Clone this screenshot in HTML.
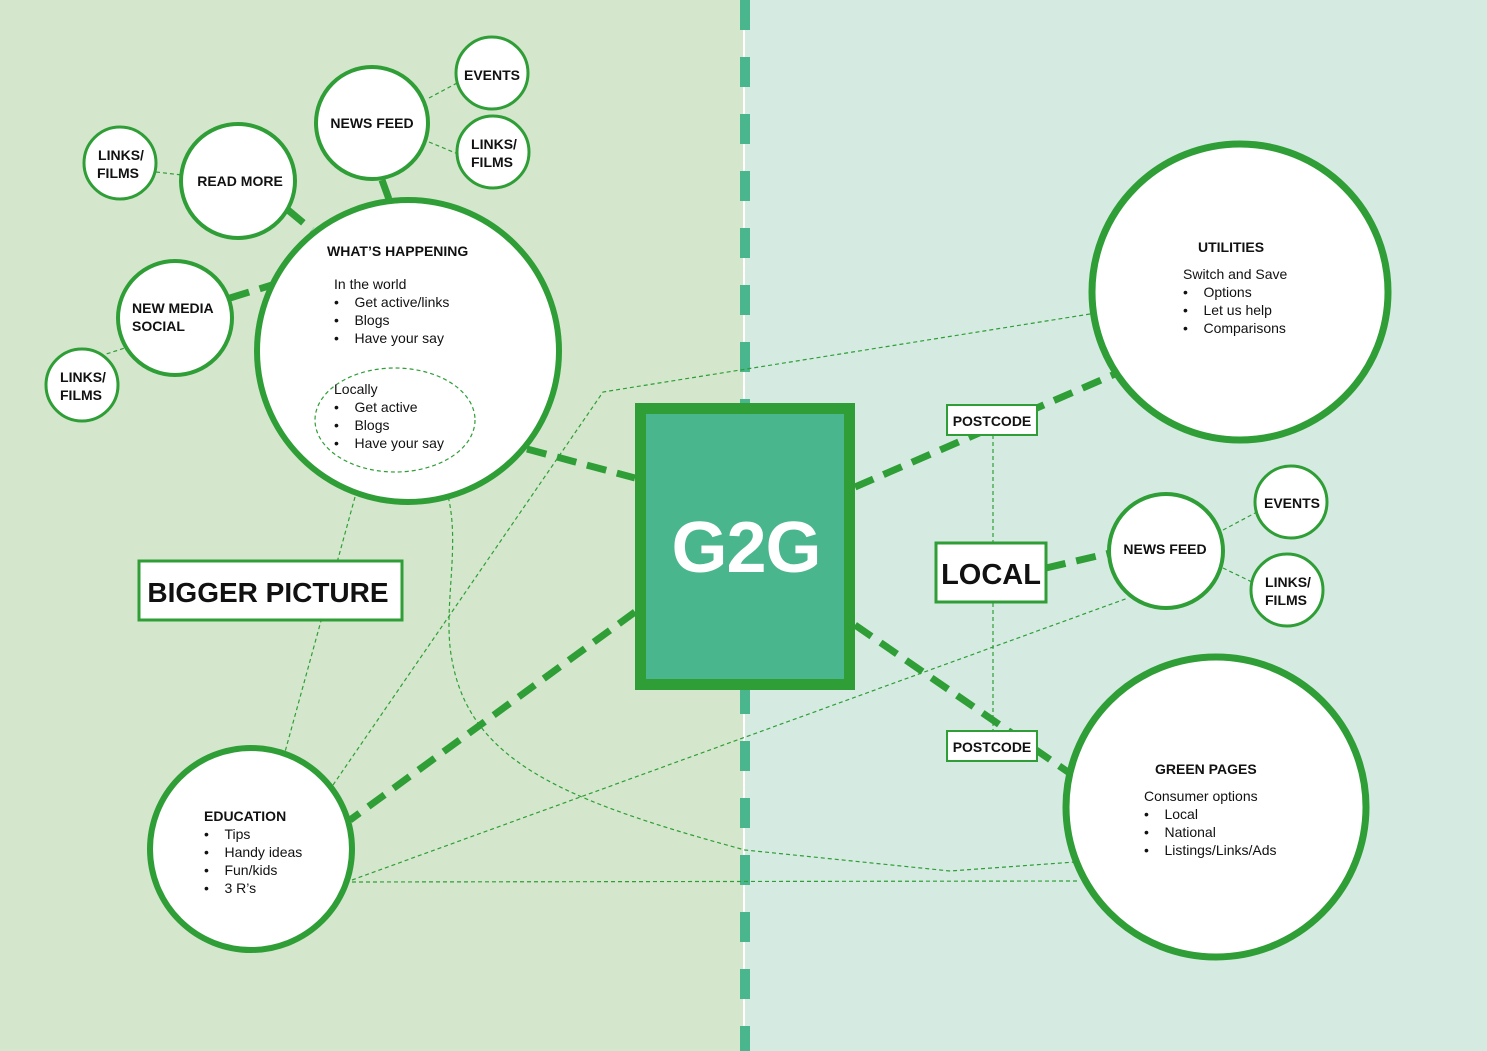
<!DOCTYPE html>
<html><head><meta charset="utf-8"><style>
html,body{margin:0;padding:0;}
svg{display:block}
text{font-family:"Liberation Sans",sans-serif;fill:#111}
.b{font-weight:bold;font-size:14px}
.n{font-size:14px}
</style></head><body>
<svg width="1487" height="1051" viewBox="0 0 1487 1051" xmlns="http://www.w3.org/2000/svg">
<rect x="0" y="0" width="745" height="1051" fill="#d4e7cd"/>
<rect x="745" y="0" width="742" height="1051" fill="#d5ebe2"/>
<line x1="744" y1="0" x2="744" y2="1051" stroke="#fff" stroke-width="2"/>
<line x1="745" y1="0" x2="745" y2="1051" stroke="#4ab68e" stroke-width="10" stroke-dasharray="30 27"/>

<g fill="none" stroke="#2f9e36" stroke-width="1.2" stroke-dasharray="4 3">
<polyline points="1090,314 603,392 333,785"/>
<path d="M435,465 C470,520 440,600 452,660 C470,760 560,800 745,850 L950,871 L1075,862"/>
<line x1="352" y1="882" x2="1080" y2="881"/>
<line x1="352" y1="880" x2="1128" y2="598"/>
<line x1="355" y1="497" x2="285" y2="752"/>
<line x1="993" y1="435" x2="993" y2="731"/>
<line x1="429" y1="98" x2="459" y2="82"/>
<line x1="429" y1="142" x2="458" y2="154"/>
<line x1="156" y1="172" x2="182" y2="175"/>
<line x1="100" y1="356" x2="128" y2="347"/>
<line x1="1223" y1="530" x2="1257" y2="512"/>
<line x1="1223" y1="568" x2="1252" y2="582"/>
</g>

<g stroke="#2f9e36" stroke-width="7" stroke-dasharray="20 11" fill="none">
<line x1="527" y1="449" x2="635" y2="478"/>
<line x1="635" y1="612" x2="350" y2="820"/>
<line x1="855" y1="487" x2="1115" y2="374"/>
<line x1="855" y1="625" x2="1068" y2="772"/>
<line x1="1046" y1="568" x2="1110" y2="553"/>
<line x1="382" y1="180" x2="390" y2="202"/>
<line x1="288" y1="210" x2="312" y2="230"/>
<line x1="230" y1="298" x2="272" y2="285"/>
</g>

<g fill="#fff" stroke="#2f9e36">
<circle cx="408" cy="351" r="151" stroke-width="6"/>
<circle cx="372" cy="123" r="56" stroke-width="4"/>
<circle cx="492" cy="73" r="36" stroke-width="3"/>
<circle cx="493" cy="152" r="36" stroke-width="3"/>
<circle cx="238" cy="181" r="57" stroke-width="4"/>
<circle cx="120" cy="163" r="36" stroke-width="3"/>
<circle cx="175" cy="318" r="57" stroke-width="4"/>
<circle cx="82" cy="385" r="36" stroke-width="3"/>
<circle cx="251" cy="849" r="101" stroke-width="6"/>
<circle cx="1240" cy="292" r="148" stroke-width="7"/>
<circle cx="1166" cy="551" r="57" stroke-width="4"/>
<circle cx="1291" cy="502" r="36" stroke-width="3"/>
<circle cx="1287" cy="590" r="36" stroke-width="3"/>
<circle cx="1216" cy="807" r="150" stroke-width="7"/>
</g>
<ellipse cx="395" cy="420" rx="80" ry="52" fill="none" stroke="#2f9e36" stroke-width="1.2" stroke-dasharray="4 3"/>

<rect x="640.5" y="408.5" width="209" height="276" fill="#4ab68e" stroke="#2f9e36" stroke-width="11"/>
<text x="746" y="572" text-anchor="middle" style="font-size:72px;font-weight:900;fill:#fff;letter-spacing:-1px">G2G</text>

<g fill="#fff" stroke="#2f9e36" stroke-width="2">
<rect x="947" y="405" width="90" height="30"/>
<rect x="947" y="731" width="90" height="30"/>
<rect x="936" y="543" width="110" height="59" stroke-width="3"/>
<rect x="139" y="561" width="263" height="59" stroke-width="3"/>
</g>
<text x="992" y="426" text-anchor="middle" class="b">POSTCODE</text>
<text x="992" y="752" text-anchor="middle" class="b">POSTCODE</text>
<text x="991" y="584" text-anchor="middle" style="font-size:29px;font-weight:bold">LOCAL</text>
<text x="268" y="602" text-anchor="middle" style="font-size:28px;font-weight:bold">BIGGER PICTURE</text>

<text x="372" y="128" text-anchor="middle" class="b">NEWS FEED</text>
<text x="492" y="80" text-anchor="middle" class="b">EVENTS</text>
<text x="494" y="149" text-anchor="middle" class="b">LINKS/</text>
<text x="492" y="167" text-anchor="middle" class="b">FILMS</text>
<text x="240" y="186" text-anchor="middle" class="b">READ MORE</text>
<text x="121" y="160" text-anchor="middle" class="b">LINKS/</text>
<text x="118" y="178" text-anchor="middle" class="b">FILMS</text>
<text x="132" y="313" class="b">NEW MEDIA</text>
<text x="132" y="331" class="b">SOCIAL</text>
<text x="83" y="382" text-anchor="middle" class="b">LINKS/</text>
<text x="81" y="400" text-anchor="middle" class="b">FILMS</text>
<text x="1165" y="554" text-anchor="middle" class="b">NEWS FEED</text>
<text x="1292" y="508" text-anchor="middle" class="b">EVENTS</text>
<text x="1288" y="587" text-anchor="middle" class="b">LINKS/</text>
<text x="1286" y="605" text-anchor="middle" class="b">FILMS</text>

<text x="327" y="256" class="b">WHAT’S HAPPENING</text>
<text x="334" y="289" class="n">In the world</text>
<text x="334" y="307" class="n">•&#160;&#160;&#160;&#160;Get active/links</text>
<text x="334" y="325" class="n">•&#160;&#160;&#160;&#160;Blogs</text>
<text x="334" y="343" class="n">•&#160;&#160;&#160;&#160;Have your say</text>
<text x="334" y="394" class="n">Locally</text>
<text x="334" y="412" class="n">•&#160;&#160;&#160;&#160;Get active</text>
<text x="334" y="430" class="n">•&#160;&#160;&#160;&#160;Blogs</text>
<text x="334" y="448" class="n">•&#160;&#160;&#160;&#160;Have your say</text>

<text x="204" y="821" class="b">EDUCATION</text>
<text x="204" y="839" class="n">•&#160;&#160;&#160;&#160;Tips</text>
<text x="204" y="857" class="n">•&#160;&#160;&#160;&#160;Handy ideas</text>
<text x="204" y="875" class="n">•&#160;&#160;&#160;&#160;Fun/kids</text>
<text x="204" y="893" class="n">•&#160;&#160;&#160;&#160;3 R’s</text>

<text x="1198" y="252" class="b">UTILITIES</text>
<text x="1183" y="279" class="n">Switch and Save</text>
<text x="1183" y="297" class="n">•&#160;&#160;&#160;&#160;Options</text>
<text x="1183" y="315" class="n">•&#160;&#160;&#160;&#160;Let us help</text>
<text x="1183" y="333" class="n">•&#160;&#160;&#160;&#160;Comparisons</text>

<text x="1155" y="774" class="b">GREEN PAGES</text>
<text x="1144" y="801" class="n">Consumer options</text>
<text x="1144" y="819" class="n">•&#160;&#160;&#160;&#160;Local</text>
<text x="1144" y="837" class="n">•&#160;&#160;&#160;&#160;National</text>
<text x="1144" y="855" class="n">•&#160;&#160;&#160;&#160;Listings/Links/Ads</text>
</svg>
</body></html>
